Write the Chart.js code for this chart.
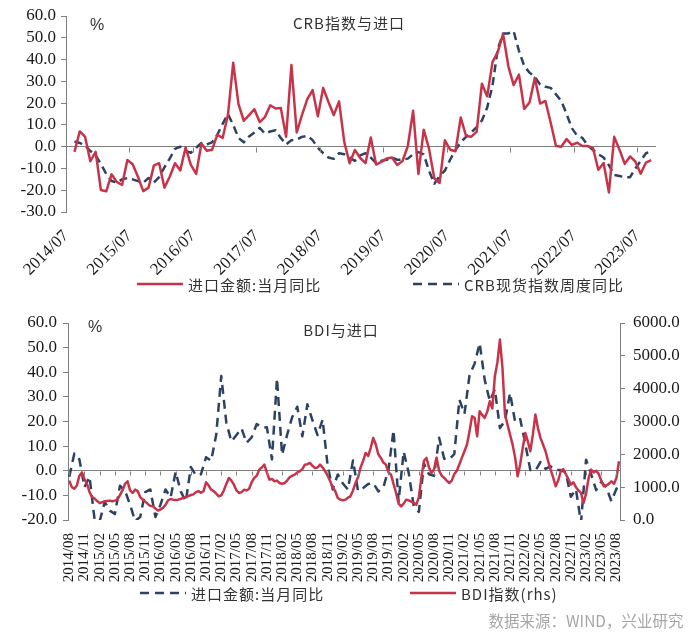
<!DOCTYPE html>
<html>
<head>
<meta charset="utf-8">
<script src="https://cdn.jsdelivr.net/npm/chart.js@4.4.1/dist/chart.umd.min.js"></script>
<style>
  html, body { margin: 0; padding: 0; background: #fff; }
  #wrap { position: relative; width: 700px; height: 641px; overflow: hidden; }
  canvas { position: absolute; left: 0; }
  .txt { position: absolute; white-space: nowrap; transform: translate(-50%, -50%); line-height: 1; }
  .cjk { font-family: "Noto Sans CJK SC", "Noto Sans", sans-serif; color: #333; }
  .legend { position: absolute; height: 20px; display: flex; align-items: center; font-family: "Noto Sans CJK SC", sans-serif; font-size: 15px; color: #333; letter-spacing: 1px; white-space: nowrap; }
  .legend svg { margin-right: 5px; }
  .preload { position: absolute; left: -1000px; top: -1000px; font-family: "Liberation Serif"; }
</style>
</head>
<body>
<div id="wrap">
  <span class="preload">0123456789./-</span>
  <canvas id="top" width="700" height="300" style="top:0"></canvas>
  <canvas id="bot" width="700" height="341" style="top:300px"></canvas>

  <div class="txt cjk" style="left:349px; top:22px; font-size:15px; letter-spacing:1px;">CRB指数与进口</div>
  <div class="txt" style="left:97px; top:25px; font-family:'Liberation Sans',sans-serif; font-size:16px; color:#333;">%</div>

  <div class="legend" style="left:137px; top:274px;">
    <svg width="46" height="6"><line x1="0" y1="3" x2="46" y2="3" stroke="#C73449" stroke-width="2.5"/></svg>进口金额:当月同比
  </div>
  <div class="legend" style="left:413px; top:274px;">
    <svg width="46" height="6"><line x1="0" y1="3" x2="46" y2="3" stroke="#2D4263" stroke-width="2.5" stroke-dasharray="9 6"/></svg>CRB现货指数周度同比
  </div>

  <div class="txt cjk" style="left:341px; top:329px; font-size:15px; letter-spacing:1px;">BDI与进口</div>
  <div class="txt" style="left:95px; top:327px; font-family:'Liberation Sans',sans-serif; font-size:16px; color:#333;">%</div>

  <div class="legend" style="left:140px; top:583px;">
    <svg width="46" height="6"><line x1="0" y1="3" x2="46" y2="3" stroke="#2D4263" stroke-width="2.5" stroke-dasharray="9 6"/></svg>进口金额:当月同比
  </div>
  <div class="legend" style="left:410px; top:583px;">
    <svg width="46" height="6"><line x1="0" y1="3" x2="46" y2="3" stroke="#C73449" stroke-width="2.5"/></svg>BDI指数(rhs)
  </div>

  <div class="txt" style="left:586px; top:621px; font-family:'Noto Sans CJK SC',sans-serif; font-size:15.5px; color:#a6a6a6;">数据来源：WIND，兴业研究</div>
</div>

<script>
// ---------------- DATA ----------------
// China import value, YoY %, monthly from 2014/08 to 2023/09
const importYoY = [
  -2.4, 7.0, 4.6, -6.7, -2.4, -19.9, -20.5, -12.7, -16.2, -17.6,
  -6.1, -8.1, -13.8, -20.4, -18.8, -8.7, -7.6, -18.8, -13.8, -7.6,
  -10.9, -0.4, -8.4, -12.5, 1.5, -1.9, -1.4, 5.5, 4.0, 14.5,
  38.5, 19.5, 11.9, 14.5, 17.2, 11.3, 13.6, 19.0, 17.5, 17.7,
  4.6, 37.5, 6.5, 14.6, 21.8, 26.0, 14.0, 27.0, 20.5, 14.5,
  20.8, 2.0, -7.6, -1.5, -5.2, -7.6, 4.2, -8.2, -7.0, -5.4,
  -5.0, -8.4, -6.6, 0.3, 16.5, -12.5, 7.8, -0.9, -14.5, -16.7,
  2.9, -1.4, -2.1, 13.4, 4.9, 4.6, 6.8, 28.9, 23.1, 38.8,
  43.5, 51.8, 36.9, 28.3, 33.1, 17.3, 20.3, 31.6, 19.8, 21.0,
  11.0, 0.3, 0.0, 3.5, 0.8, 1.8, 0.3, 0.3, -0.7, -10.6,
  -7.5, -21.0, 4.5, -1.4, -7.9, -4.5, -6.8, -12.4, -7.3, -6.2
];

// CRB spot index weekly YoY %, sampled monthly from 2014/08 to 2023/09
const crbYoY = [
  2.4, 1.7, 0.5, -2.0, -4.0, -8.0, -12.5, -15.8, -16.5, -15.0,
  -14.4, -15.0, -15.8, -16.5, -14.4, -16.5, -14.0, -9.5, -5.5, -1.0,
  0.0, -2.0, -2.8, -0.5, 1.7, 1.0, 2.0, 5.5, 10.5, 15.0,
  10.0, 4.0, 2.0, 4.7, 6.5, 8.6, 6.0, 7.0, 7.5, 4.0,
  1.0, 3.0, 3.2, 4.5, 5.0, 3.0, -0.5, -3.0, -5.0, -5.6,
  -3.0, -3.5, -5.0, -6.5, -4.0, -3.0, -5.0, -7.5, -6.5, -6.0,
  -5.0, -6.0, -6.0, -5.5, -3.5, -2.5, -3.5, -11.0, -17.0, -13.5,
  -11.0, -6.0, -1.5, 2.0, 4.5, 6.5, 9.0, 12.0, 18.0, 28.0,
  45.0, 52.0, 52.0, 53.0, 44.0, 37.0, 34.0, 32.0, 28.5, 27.5,
  27.0, 24.0, 21.0, 15.0, 8.5, 5.0, 4.0, 0.5, -1.5, -3.5,
  -5.0, -8.5, -13.0, -13.5, -14.0, -14.0, -10.0, -6.5, -3.0, -2.2
];

// BDI index, half-monthly readings from 2014/08 to 2023/08
const bdi = [
  1200, 1000, 950, 1050, 1350, 1450, 1250, 1100, 850, 700,
  650, 580, 520, 540, 570, 580, 590, 570, 590, 620,
  760, 900, 1100, 1180, 900, 823, 924, 880, 700, 620,
  560, 490, 430, 417, 350, 290, 320, 370, 460, 600,
  640, 620, 610, 620, 640, 680, 700, 730, 760, 780,
  850, 880, 830, 880, 1150, 1050, 924, 880, 800, 722,
  750, 900, 1100, 1280, 1200, 1076, 900, 823, 850, 924,
  900, 950, 1150, 1280, 1350, 1534, 1600, 1686, 1450, 1229,
  1250, 1180, 1200, 1128, 1100, 1128, 1200, 1300, 1350, 1381,
  1450, 1485, 1550, 1686, 1700, 1738, 1650, 1585, 1600, 1686,
  1600, 1485, 1350, 1180, 1000, 875, 670, 620, 600, 620,
  680, 722, 900, 1128, 1300, 1600, 1800, 2043, 1950, 2200,
  2500, 2300, 2000, 1890, 1750, 1686, 1450, 1381, 1100, 823,
  500, 417, 500, 620, 600, 560, 520, 466, 700, 1300,
  1800, 1890, 1600, 1433, 1550, 1900, 1500, 1350, 1280, 1200,
  1128, 1200, 1400, 1500, 1700, 1900, 2094, 2300, 2700, 3162,
  3110, 2550, 3313, 3200, 3110, 3300, 3618, 3400, 4380, 4800,
  5497, 4634, 3211, 2900, 2601, 2296, 1900, 1332, 1700, 2195,
  2652, 2400, 2094, 2600, 3211, 2800, 2500, 2300, 2094, 1800,
  1534, 1300, 1027, 1200, 1485, 1550, 1400, 1250, 1076, 1150,
  1000, 900, 823, 518, 800, 1280, 1534, 1450, 1500, 1400,
  1200, 1027, 1050, 1100, 1180, 1100, 1280, 1790
];

// Axis tick settings
const topYTicks = { min: -30, max: 60, step: 10 };
const botYTicks = { min: -20, max: 60, step: 10 };
const botY2Ticks = { min: 0, max: 6000, step: 1000 };

// ---------------- HELPERS ----------------
const RED = '#C73449';
const NAVY = '#2D4263';
const AXIS = '#808080';
const TICKCOL = '#1a1a1a';
const SERIF = '"Liberation Serif", serif';

function monthLabel(baseYear, baseMonth0, offset) {
  const t = baseYear * 12 + baseMonth0 + Math.round(offset);
  const y = Math.floor(t / 12), m = (t % 12) + 1;
  return y + '/' + String(m).padStart(2, '0');
}

const zeroTicks = {
  id: 'zeroTicks',
  afterDatasetsDraw(chart, args, opts) {
    const xs = chart.scales.x, ys = chart.scales.y, ctx = chart.ctx;
    const y0 = Math.round(ys.getPixelForValue(0)) + 0.5;
    ctx.save();
    ctx.strokeStyle = opts.color || AXIS;
    ctx.lineWidth = 1;
    ctx.beginPath();
    xs.ticks.forEach(t => {
      const px = Math.round(xs.getPixelForValue(t.value)) + 0.5;
      ctx.moveTo(px, y0);
      ctx.lineTo(px, y0 + (opts.len || 4));
    });
    ctx.stroke();
    ctx.restore();
  }
};

const zeroGrid = ctx => (ctx.tick && ctx.tick.value === 0) ? AXIS : 'rgba(0,0,0,0)';

function draw() {
  // ---------------- TOP CHART ----------------
  // Date axis: tick 0 = 2014/07; monthly points sit at month-end positions.
  const TOP_SHIFT = 1.6;
  new Chart(document.getElementById('top'), {
    type: 'line',
    data: {
      datasets: [
        {
          label: '进口金额:当月同比',
          data: importYoY.map((v, i) => ({ x: i + TOP_SHIFT, y: v })),
          borderColor: RED, borderWidth: 2.5, pointRadius: 0, tension: 0,
          borderJoinStyle: 'round', order: 1
        },
        {
          label: 'CRB现货指数周度同比',
          data: crbYoY.map((v, i) => ({ x: i + TOP_SHIFT, y: v })),
          borderColor: NAVY, borderWidth: 2.5, borderDash: [8, 5], pointRadius: 0, tension: 0,
          borderJoinStyle: 'round', order: 2
        }
      ]
    },
    options: {
      responsive: false, animation: false, devicePixelRatio: 1,
      layout: { padding: { top: 16, left: 0, right: 44, bottom: 0 } },
      plugins: { legend: { display: false }, tooltip: { enabled: false }, zeroTicks: { len: 5, color: AXIS } },
      scales: {
        x: {
          type: 'linear', min: 0, max: 111.5,
          grid: { display: false }, border: { display: false },
          ticks: {
            stepSize: 12, includeBounds: false, autoSkip: false,
            minRotation: 45, maxRotation: 45, padding: 6,
            color: TICKCOL, font: { family: SERIF, size: 17 },
            callback: v => monthLabel(2014, 6, v)
          },
          afterFit: s => { s.height = 88; }
        },
        y: {
          min: topYTicks.min, max: topYTicks.max,
          grid: { color: zeroGrid, tickColor: AXIS, tickLength: 5, drawTicks: true },
          border: { color: AXIS, width: 1 },
          ticks: {
            stepSize: topYTicks.step, padding: 5, color: TICKCOL, autoSkip: false,
            font: { family: SERIF, size: 17 },
            callback: v => Number(v).toFixed(1)
          },
          afterFit: s => { s.width = 66; }
        }
      }
    },
    plugins: [zeroTicks]
  });

  // ---------------- BOTTOM CHART ----------------
  // x = months since 2014/08
  new Chart(document.getElementById('bot'), {
    type: 'line',
    data: {
      datasets: [
        {
          label: 'BDI指数(rhs)',
          data: bdi.map((v, k) => ({ x: k / 2, y: v })),
          yAxisID: 'y2',
          borderColor: RED, borderWidth: 2.5, pointRadius: 0, tension: 0,
          borderJoinStyle: 'round', order: 1
        },
        {
          label: '进口金额:当月同比',
          data: importYoY.map((v, i) => ({ x: i, y: v })),
          yAxisID: 'y',
          borderColor: NAVY, borderWidth: 2.5, borderDash: [9, 6], pointRadius: 0, tension: 0,
          borderJoinStyle: 'round', order: 2
        }
      ]
    },
    options: {
      responsive: false, animation: false, devicePixelRatio: 1,
      layout: { padding: { top: 23, left: 0, right: 0, bottom: 0 } },
      plugins: { legend: { display: false }, tooltip: { enabled: false }, zeroTicks: { len: 4, color: AXIS } },
      scales: {
        x: {
          type: 'linear', min: -0.25, max: 108.7,
          grid: { display: false }, border: { display: false },
          ticks: {
            stepSize: 3, includeBounds: false, autoSkip: false,
            minRotation: 90, maxRotation: 90, padding: 5,
            color: TICKCOL, font: { family: SERIF, size: 15 },
            callback: v => monthLabel(2014, 7, v)
          },
          afterFit: s => { s.height = 121; }
        },
        y: {
          position: 'left',
          min: botYTicks.min, max: botYTicks.max,
          grid: { color: zeroGrid, tickColor: AXIS, tickLength: 5, drawTicks: true },
          border: { color: AXIS, width: 1 },
          ticks: {
            stepSize: botYTicks.step, padding: 6, color: TICKCOL, autoSkip: false,
            font: { family: SERIF, size: 17 },
            callback: v => Number(v).toFixed(1)
          },
          afterFit: s => { s.width = 68; }
        },
        y2: {
          position: 'right',
          min: botY2Ticks.min, max: botY2Ticks.max,
          grid: { drawOnChartArea: false, color: AXIS, tickColor: AXIS, tickLength: 5 },
          border: { color: AXIS, width: 1 },
          ticks: {
            stepSize: botY2Ticks.step, padding: 8, color: TICKCOL, autoSkip: false,
            font: { family: SERIF, size: 17 },
            callback: v => Number(v).toFixed(1)
          },
          afterFit: s => { s.width = 80; }
        }
      }
    },
    plugins: [zeroTicks]
  });
}

let drawn = false;
function drawOnce() { if (!drawn) { drawn = true; draw(); } }
if (document.fonts && document.fonts.load) {
  Promise.all([
    document.fonts.load('17px "Liberation Serif"'),
    document.fonts.load('15px "Liberation Serif"')
  ]).then(drawOnce, drawOnce);
  setTimeout(drawOnce, 1500);
} else {
  drawOnce();
}
</script>
</body>
</html>
